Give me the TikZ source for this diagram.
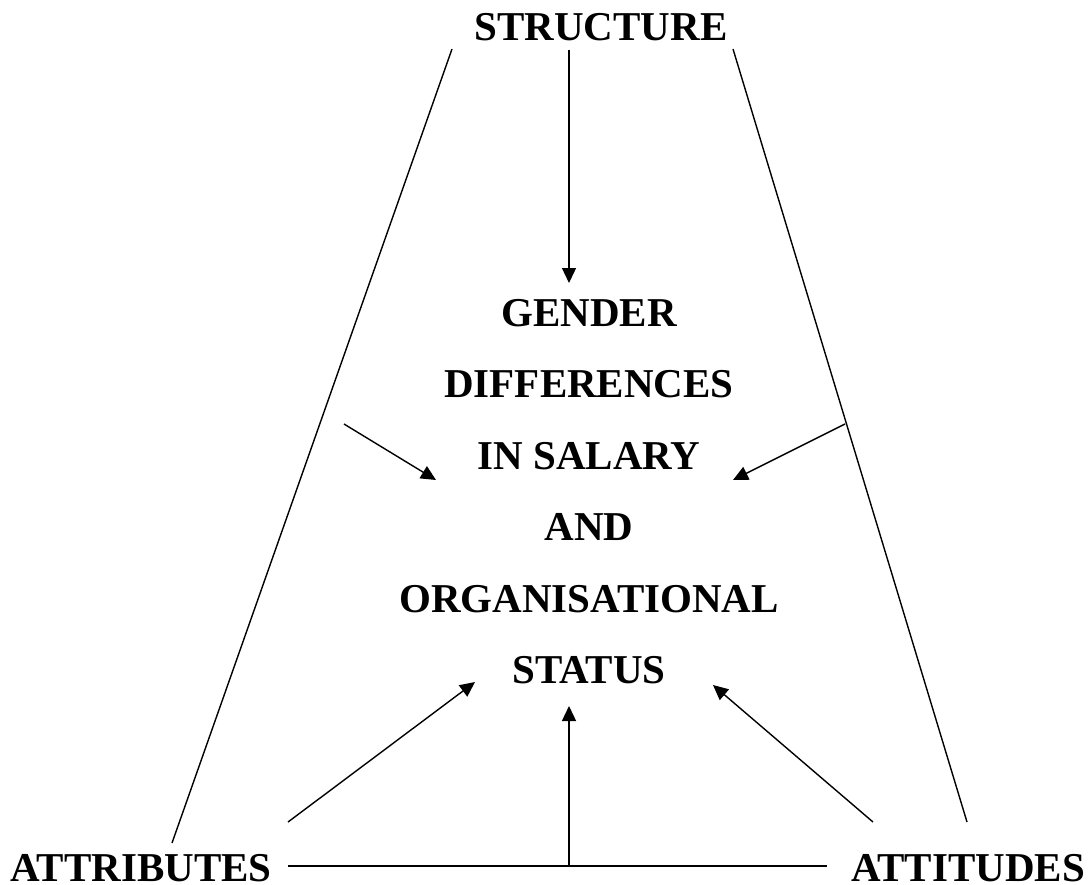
\documentclass[tikz,border=0pt]{standalone}
\usepackage{fontspec}
\setmainfont{Liberation Serif}
\usetikzlibrary{arrows.meta}
\begin{document}
\begin{tikzpicture}[x=1pt,y=-1pt,
  lbl/.style={inner sep=0pt,anchor=base,font=\fontsize{41}{41}\selectfont\bfseries},
  conn/.style={line width=1.4pt},
  arr/.style={conn,-{Triangle[length=15pt,width=14pt]}}]
\useasboundingbox (0,0) rectangle (1091,884);
% labels
\node[lbl] (structure) at (601,40) {STRUCTURE};
\node[lbl] (attributes) at (141,881) {ATTRIBUTES};
\node[lbl] (attitudes) at (968,881) {ATTITUDES};
\node[lbl] (g1) at (589,326) {GENDER};
\node[lbl] (g2) at (589,397.5) {DIFFERENCES};
\node[lbl] (g3) at (589,469) {IN SALARY};
\node[lbl] (g4) at (589,540.5) {AND};
\node[lbl] (g5) at (589,612) {ORGANISATIONAL};
\node[lbl] (g6) at (589,683.5) {STATUS};
% end points
\coordinate (lt) at (452,49);
\coordinate (lb) at (172,843);
\coordinate (rt) at (733,49);
\coordinate (rb) at (967,822);
\coordinate (st) at (569,50);
\coordinate (stip) at (569,283);
\coordinate (ls) at (344,424);
\coordinate (ltip) at (436,480);
\coordinate (rs) at (845,424);
\coordinate (rtip) at (733,480);
\coordinate (bls) at (288,822);
\coordinate (bltip) at (475,682);
\coordinate (brs) at (873,822);
\coordinate (brtip) at (713,685);
\coordinate (hl) at (288,866);
\coordinate (hr) at (827,866);
\coordinate (bv) at (569,867);
\coordinate (bvtip) at (569,706);
% connectors
\draw[conn] (lt) -- (lb);
\draw[conn] (rt) -- (rb);
\draw[arr] (st) -- (stip);
\draw[arr] (ls) -- (ltip);
\draw[arr] (rs) -- (rtip);
\draw[arr] (bls) -- (bltip);
\draw[arr] (brs) -- (brtip);
\draw[conn] (hl) -- (hr);
\draw[arr] (bv) -- (bvtip);
\end{tikzpicture}
\end{document}
